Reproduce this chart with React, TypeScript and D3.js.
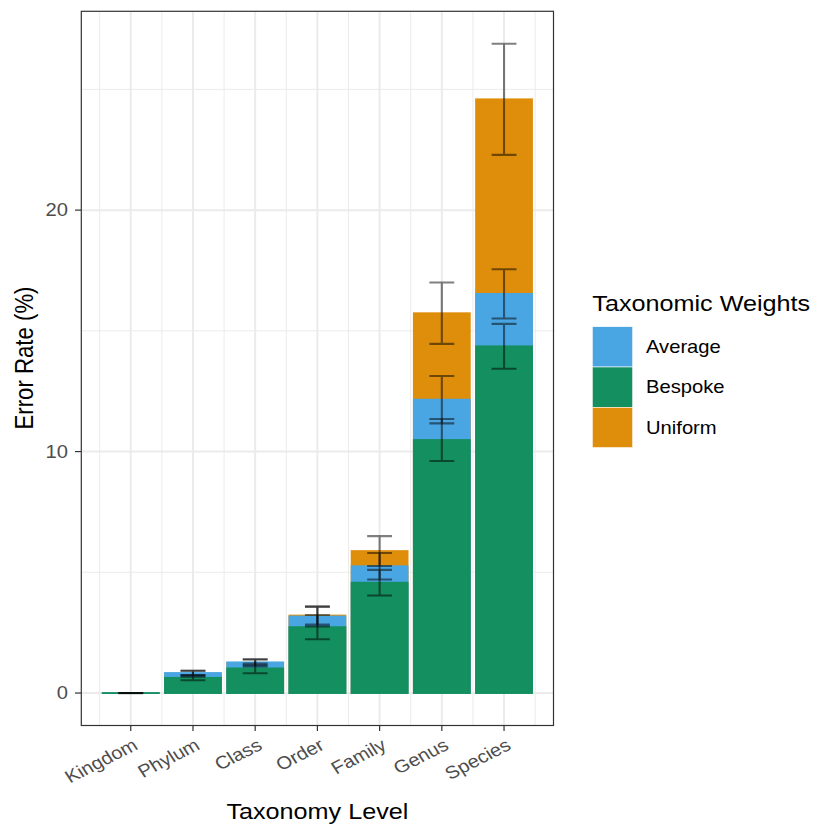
import React from "react";
import * as d3 from "d3";

// Taxonomy levels on the x axis
const levels = ["Kingdom", "Phylum", "Class", "Order", "Family", "Genus", "Species"];

// Mean error rate (%) and error-bar half width per weighting scheme
const uniformMean = [0, 0.8, 1.25, 3.21, 5.88, 15.73, 24.59];
const uniformErr = [0, 0.12, 0.15, 0.37, 0.62, 1.27, 2.3];
const averageMean = [0, 0.83, 1.27, 3.17, 5.25, 12.15, 16.53];
const averageErr = [0, 0.09, 0.12, 0.41, 0.55, 0.98, 1.02];
const bespokeMean = [0, 0.63, 1.02, 2.73, 4.57, 10.48, 14.36];
const bespokeErr = [0, 0.1, 0.2, 0.5, 0.53, 0.87, 0.93];

const yMajorTicks = [0, 10, 20];
const yMinorTicks = [5, 15, 25];

const legendOrder = ["Average", "Bespoke", "Uniform"];
const colors: Record<string, string> = {
  Average: "#4AA6E3",
  Bespoke: "#148F5F",
  Uniform: "#DF8E0B",
};

type Series = { name: string; mean: number[]; err: number[] };
// drawn back to front: tallest bars first
const series: Series[] = [
  { name: "Uniform", mean: uniformMean, err: uniformErr },
  { name: "Average", mean: averageMean, err: averageErr },
  { name: "Bespoke", mean: bespokeMean, err: bespokeErr },
];

const W = 819;
const H = 826;
const SX = 1.135; // horizontal text stretch
const FONT = "'Liberation Sans', Arial, Helvetica, sans-serif";
const panel = { left: 81.3, right: 553.5, top: 11.3, bottom: 725.5 };

const barWidth = 0.9;
const errWidth = 0.4;

export default function App() {
  const xs = levels.map((_, i) => i + 1);
  const xLo = 1 - barWidth / 2;
  const xHi = levels.length + barWidth / 2;
  const xPad = 0.05 * (xHi - xLo);
  const x = d3.scaleLinear().domain([xLo - xPad, xHi + xPad]).range([panel.left, panel.right]);

  const allHi = series.flatMap((s) => s.mean.map((m, i) => m + s.err[i]));
  const allLo = series.flatMap((s) => s.mean.map((m, i) => m - s.err[i]));
  const yLo = Math.min(0, d3.min(allLo) as number);
  const yHi = d3.max(allHi) as number;
  const yPad = 0.05 * (yHi - yLo);
  const y = d3.scaleLinear().domain([yLo - yPad, yHi + yPad]).range([panel.bottom, panel.top]);

  const xMinor = d3.range(0.5, levels.length + 1, 1).filter((v) => v > x.domain()[0] && v < x.domain()[1]);
  const pxPerUnit = x(2) - x(1);

  const legendX = 592.3;
  const keyTop = 326.7;
  const keySize = 40.3;

  return (
    <svg
      width={W}
      height={H}
      style={{ position: "absolute", left: 0, top: 0, background: "#fff" }}
      fontFamily={FONT}
    >
      <rect x={0} y={0} width={W} height={H} fill="#fff" />
      {/* grid */}
      <g>
        {yMinorTicks.map((t) => (
          <line key={"ym" + t} x1={panel.left} x2={panel.right} y1={y(t)} y2={y(t)} stroke="#EBEBEB" strokeWidth={1} />
        ))}
        {xMinor.map((t) => (
          <line key={"xm" + t} x1={x(t)} x2={x(t)} y1={panel.top} y2={panel.bottom} stroke="#EBEBEB" strokeWidth={1} />
        ))}
        {yMajorTicks.map((t) => (
          <line key={"yM" + t} x1={panel.left} x2={panel.right} y1={y(t)} y2={y(t)} stroke="#EBEBEB" strokeWidth={2} />
        ))}
        {xs.map((t) => (
          <line key={"xM" + t} x1={x(t)} x2={x(t)} y1={panel.top} y2={panel.bottom} stroke="#EBEBEB" strokeWidth={2} />
        ))}
      </g>

      {/* bars (outlined in their own colour, so zero-height bars show as a thin line) */}
      {series.map((s) => (
        <g key={s.name}>
          {s.mean.map((m, i) => {
            const x0 = x(xs[i] - barWidth / 2);
            const x1 = x(xs[i] + barWidth / 2);
            const y0 = y(0);
            const y1 = y(m);
            if (Math.abs(y0 - y1) < 0.5) {
              return (
                <line key={i} x1={x0 - 0.9} x2={x1 + 0.9} y1={y0} y2={y0} stroke={colors[s.name]} strokeWidth={1.8} />
              );
            }
            return (
              <rect
                key={i}
                x={x0}
                y={Math.min(y0, y1)}
                width={x1 - x0}
                height={Math.abs(y0 - y1)}
                fill={colors[s.name]}
                stroke={colors[s.name]}
                strokeWidth={1.8}
              />
            );
          })}
        </g>
      ))}

      {/* error bars */}
      {series.map((s) => (
        <g key={"e" + s.name} stroke="#000" strokeOpacity={0.5} strokeWidth={2.1} fill="none">
          {s.mean.map((m, i) => {
            const cx = x(xs[i]);
            const hw = (errWidth / 2) * pxPerUnit;
            const top = y(m + s.err[i]);
            const bot = y(m - s.err[i]);
            if (s.err[i] === 0) {
              return <line key={i} x1={cx - hw} x2={cx + hw} y1={top} y2={top} />;
            }
            return (
              <path
                key={i}
                d={`M${cx - hw},${top}H${cx + hw}M${cx},${top}V${bot}M${cx - hw},${bot}H${cx + hw}`}
              />
            );
          })}
        </g>
      ))}

      {/* panel border */}
      <rect
        x={panel.left}
        y={panel.top}
        width={panel.right - panel.left}
        height={panel.bottom - panel.top}
        fill="none"
        stroke="#333333"
        strokeWidth={1.2}
      />

      {/* y axis */}
      {yMajorTicks.map((t) => (
        <g key={"yt" + t}>
          <line x1={panel.left - 6.3} x2={panel.left} y1={y(t)} y2={y(t)} stroke="#333333" strokeWidth={1.2} />
          <text
            transform={`translate(68,${y(t)}) scale(${SX},1)`}
            textAnchor="end"
            dominantBaseline="central"
            fontSize={17.8}
            fill="#4D4D4D"
          >
            {t}
          </text>
        </g>
      ))}
      <text
        transform={`translate(25,358) scale(${SX},1) rotate(-90)`}
        textAnchor="middle"
        dominantBaseline="central"
        fontSize={22.2}
        fill="#000"
      >
        Error Rate (%)
      </text>

      {/* x axis */}
      {levels.map((lab, i) => (
        <g key={"xt" + lab}>
          <line x1={x(xs[i])} x2={x(xs[i])} y1={panel.bottom} y2={panel.bottom + 5.6} stroke="#333333" strokeWidth={1.2} />
          <text
            transform={`translate(${x(xs[i]) + 1},${panel.bottom + 12}) scale(${SX},1) rotate(-30)`}
            textAnchor="end"
            dominantBaseline="hanging"
            fontSize={17.8}
            fill="#4D4D4D"
          >
            {lab}
          </text>
        </g>
      ))}
      <text
        transform={`translate(${(panel.left + panel.right) / 2},819) scale(${SX},1)`}
        textAnchor="middle"
        fontSize={22.2}
        fill="#000"
      >
        Taxonomy Level
      </text>

      {/* legend */}
      <text transform={`translate(${legendX},310.7) scale(${SX},1)`} fontSize={22.2} fill="#000">
        Taxonomic Weights
      </text>
      {legendOrder.map((name, i) => (
        <g key={"lg" + name}>
          <rect
            x={legendX}
            y={keyTop + i * keySize}
            width={40.4}
            height={keySize}
            fill={colors[name]}
            stroke="#fff"
            strokeWidth={0.6}
          />
          <text
            transform={`translate(646,${keyTop + i * keySize + keySize / 2}) scale(${SX},1)`}
            dominantBaseline="central"
            fontSize={17.8}
            fill="#000"
          >
            {name}
          </text>
        </g>
      ))}
    </svg>
  );
}
